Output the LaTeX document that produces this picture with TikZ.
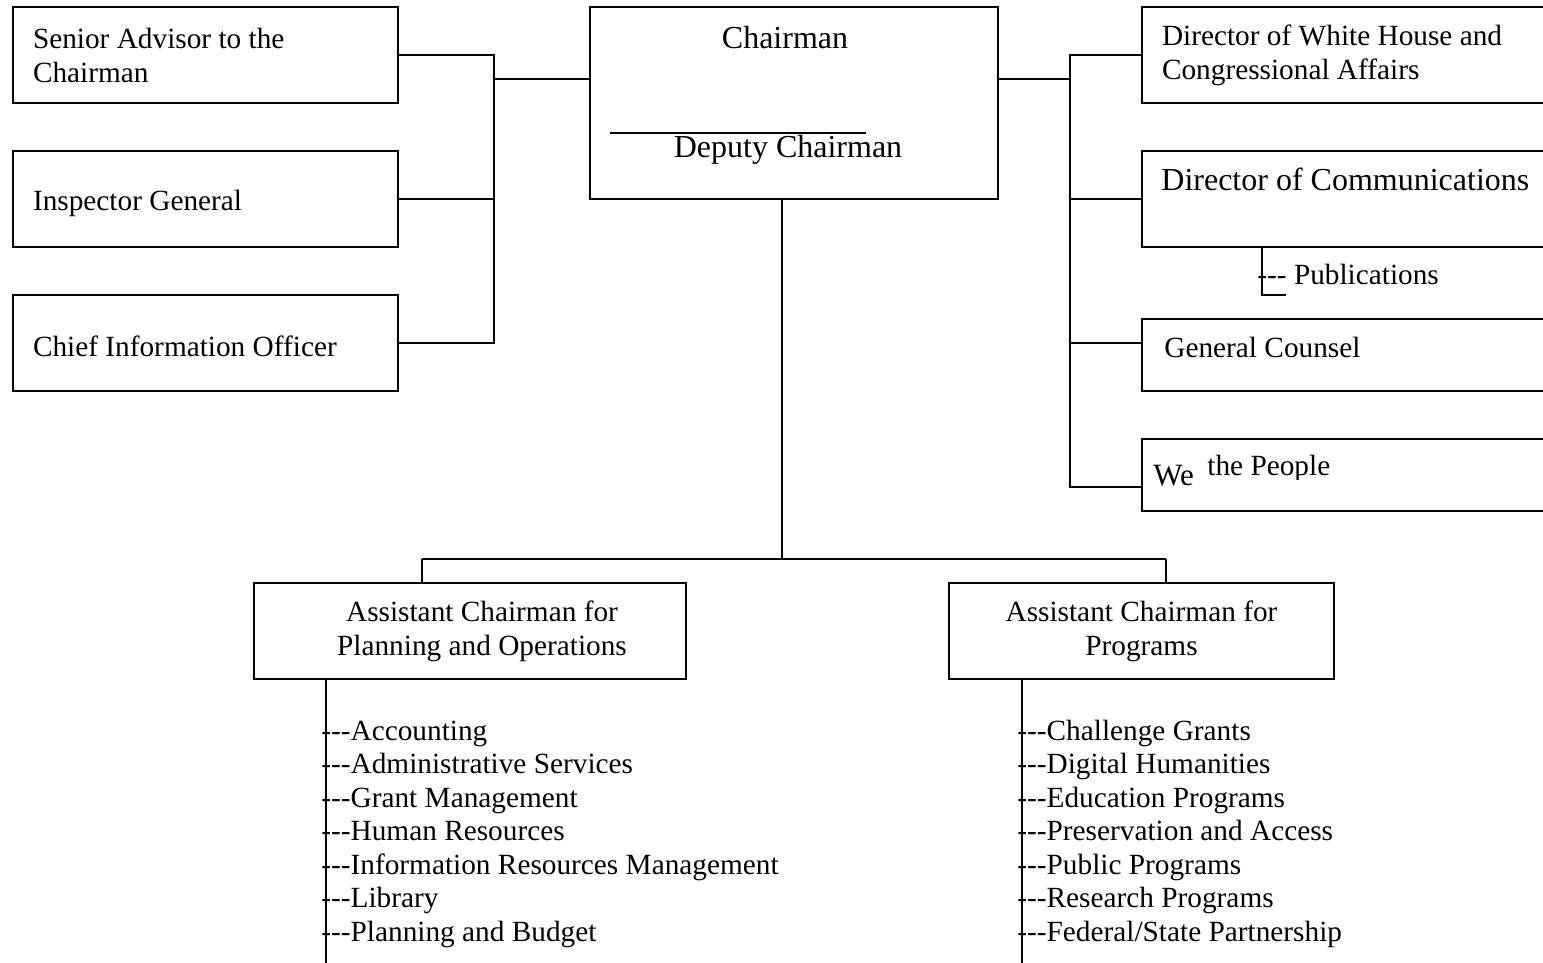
\documentclass[tikz,border=0pt]{standalone}
\usepackage{fontspec}
\setmainfont{Liberation Serif}[Ligatures=TeXOff]
\usetikzlibrary{positioning}

\begin{document}
\begin{tikzpicture}[x=0.5pt, y=-0.5pt,
    every node/.style={font=\fontsize{14.65pt}{17pt}\selectfont},
    unit/.style={rectangle, draw, line width=1pt, minimum height=48pt, inner xsep=10pt, align=flush left},
    leftunit/.style={unit, text width=172.5pt},
    rightunit/.style={unit, text width=200pt},
    ac/.style={unit, align=flush center},
    big/.style={font=\fontsize{16pt}{19pt}\selectfont},
    link/.style={line width=0.9pt},
    item/.style={anchor=base west, inner sep=0pt}
]
\clip (0,0) rectangle (1543,963);

% left column
\node[leftunit] (senior) at (205.5,55) {Senior Advisor to the\\Chairman};
\node[leftunit, below=23pt of senior, text height=15pt] (insp) {Inspector General};
\node[leftunit, below=23pt of insp, text height=14pt] (cio) {Chief Information Officer};

% chairman
\node[unit, minimum width=204pt, minimum height=96pt] (chair) at (794,103) {};
\node[big, anchor=base] (chairtitle) at (785,49) {Chairman};
\draw[line width=0.8pt] (610,133) -- (866,133);
\node[big, anchor=base] (deputy) at (788,157) {Deputy Chairman};

% right column
\node[rightunit, anchor=west] (dwh) at (1141,55) {Director of White House and\\Congressional Affairs};
\node[rightunit, below=23pt of dwh] (comm) {};
\node[big, item] (commtext) at (1161,191) {Director of Communications};
\node[rightunit, minimum height=36pt, below=35pt of comm] (counsel) {};
\node[item] (counseltext) at (1164,357) {General Counsel};
\node[rightunit, minimum height=36pt, below=23pt of counsel] (people) {};
\node[item, font=\fontsize{15.5pt}{18pt}\selectfont] (we) at (1153,485) {We};
\begin{scope}
  \clip (1200,440) rectangle (1400,479);
  \node[item] (thepeople) at (1207,475) {the People};
\end{scope}

\coordinate (pubknee) at (1262,295);
\coordinate (pubend) at (1286,295);
\draw[link] (comm.south -| pubknee) -- (pubknee) -- (pubend);
\node[item] (pubs) at (1257,284) {--- Publications};

% assistant chairmen
\node[ac, text width=196pt] (plan) at (470,631) {\hspace*{12pt}Assistant Chairman for\\\hspace*{12pt}Planning and Operations};
\node[ac, text width=172.5pt] (prog) at (1141.5,631) {Assistant Chairman for\\Programs};

% connectors
\coordinate (lbus) at (494,79);
\draw[link] (chair.west |- lbus) -- (lbus);
\draw[link] (senior.east) -- (senior.east -| lbus) -- (cio.east -| lbus) -- (cio.east);
\draw[link] (insp.east) -- (insp.east -| lbus);

\coordinate (rbus) at (1070,79);
\coordinate (rbusend) at (1070,487);
\coordinate (counseltap) at (1070,343);
\draw[link] (chair.east |- rbus) -- (rbus);
\draw[link] (dwh.west) -- (dwh.west -| rbus) -- (rbusend) -- (rbusend -| people.west);
\draw[link] (comm.west) -- (comm.west -| rbus);
\draw[link] (counseltap) -- (counseltap -| counsel.west);

\coordinate (drop) at (782,559);
\coordinate (dropL) at (422,559);
\coordinate (dropR) at (1166,559);
\draw[link] (chair.south -| drop) -- (drop);
\draw[link] (dropL) -- (dropR);
\draw[link] (dropL) -- (dropL |- plan.north);
\draw[link] (dropR) -- (dropR |- prog.north);

% office lists
\coordinate (planend) at (326,963);
\coordinate (progend) at (1022,963);
\draw[link] (plan.south -| planend) -- (planend);
\draw[link] (prog.south -| progend) -- (progend);
\foreach \name [count=\i] in {Accounting, Administrative Services, Grant Management, Human Resources, Information Resources Management, Library, Planning and Budget}
  \node[item] (planitem\i) at (321,706.5+33.5*\i) {---\name};
\foreach \name [count=\i] in {Challenge Grants, Digital Humanities, Education Programs, Preservation and Access, Public Programs, Research Programs, Federal/State Partnership}
  \node[item] (progitem\i) at (1017,706.5+33.5*\i) {---\name};
\end{tikzpicture}
\end{document}
